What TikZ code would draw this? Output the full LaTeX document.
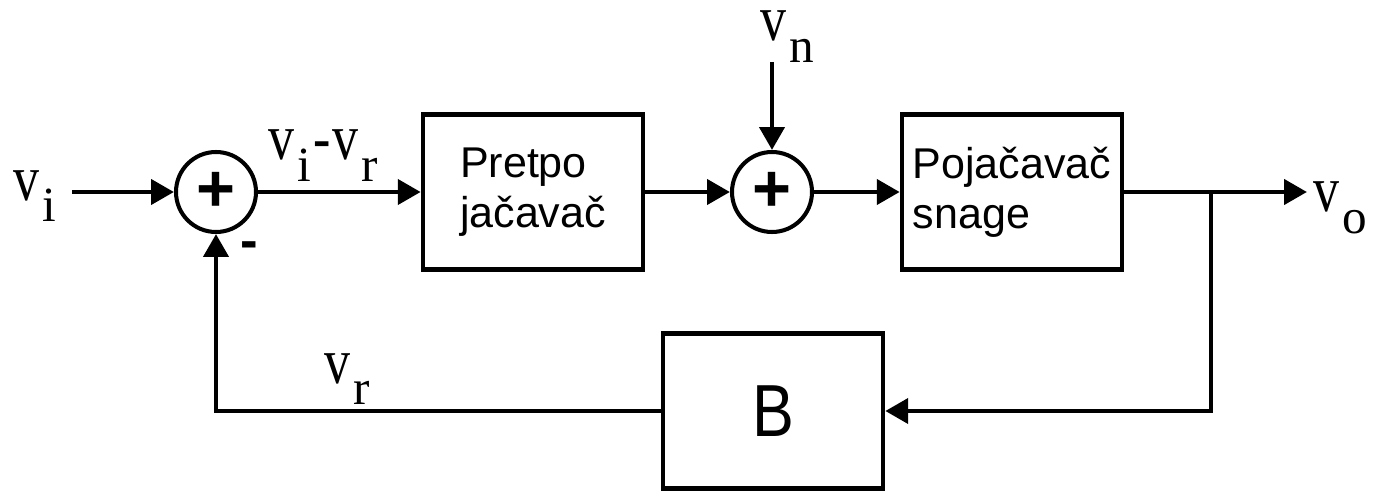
\documentclass[tikz,border=0pt]{standalone}
\usepackage{fontspec}
\setmainfont{Liberation Serif}
\setsansfont{Liberation Sans}
\usetikzlibrary{arrows.meta, positioning}

% signal name: v with a lowered index
\newcommand{\vsig}[1]{\scalebox{0.8}[1]{\fontsize{37}{37}\selectfont v}\kern2pt\raisebox{-12.5pt}{\fontsize{28}{28}\selectfont #1}}

\tikzset{
    blok/.style={draw, line width=2.6pt, minimum width=4.4cm, minimum height=3.1cm,
        inner sep=2pt, align=left, font=\sffamily\fontsize{24.5}{28.3}\selectfont},
    zbir/.style={draw, circle, line width=2.3pt, minimum size=1.6cm, inner sep=0pt,
        font=\sffamily\bfseries\fontsize{38}{38}\selectfont},
    veza/.style={line width=2.8pt, -{Triangle[length=13pt,width=14pt]}},
    linija/.style={line width=2.8pt},
    oznaka/.style={anchor=base west, inner sep=0pt},
}

\begin{document}
\begin{tikzpicture}[x=0.02cm, y=-0.02cm]
    \useasboundingbox (0,0) rectangle (1378,493);

    \node[zbir] (zb1) at (216,192) {+};
    \node[blok] (pre) at (533,192) {Pretpo\\ jačavač};
    \node[zbir] (zb2) at (772,192) {+};
    \node[blok] (poj) at (1012,192) {Pojačavač\\ snage};
    \node[blok, font=\sffamily\fontsize{42}{42}\selectfont] (B) at (773,411)
        {\scalebox{0.85}[1]{B}};

    \coordinate (ulaz) at (72,192);
    \coordinate (sum) at (772,62);
    \coordinate (grana) at (1211,192);
    \coordinate (izlaz) at (1307,192);

    % signal labels
    \node[oznaka] (vi) at (13,200) {\vsig{i}};
    \node[oznaka] (vivr) at (268,160)
        {\vsig{i}\kern1pt\scalebox{0.8}[1]{\fontsize{37}{37}\selectfont -}\kern1pt\vsig{r}};
    \node[oznaka] (vn) at (760,41) {\vsig{n}};
    \node[oznaka] (vo) at (1313,212) {\vsig{o}};
    \node[oznaka] (vr) at (324,383) {\vsig{r}};
    \node[font=\sffamily\bfseries\fontsize{30}{30}\selectfont, inner sep=0pt]
        (minus) at (249,250) {-};

    % forward path
    \draw[veza] (ulaz) -- (zb1);
    \draw[veza] (zb1) -- (pre);
    \draw[veza] (pre) -- (zb2);
    \draw[veza] (sum) -- (zb2);
    \draw[veza] (zb2) -- (poj);
    \draw[veza] (poj) -- (izlaz);

    % feedback
    \draw[veza] (grana) |- (B);
    \draw[veza] (B) -| (zb1);
\end{tikzpicture}
\end{document}
